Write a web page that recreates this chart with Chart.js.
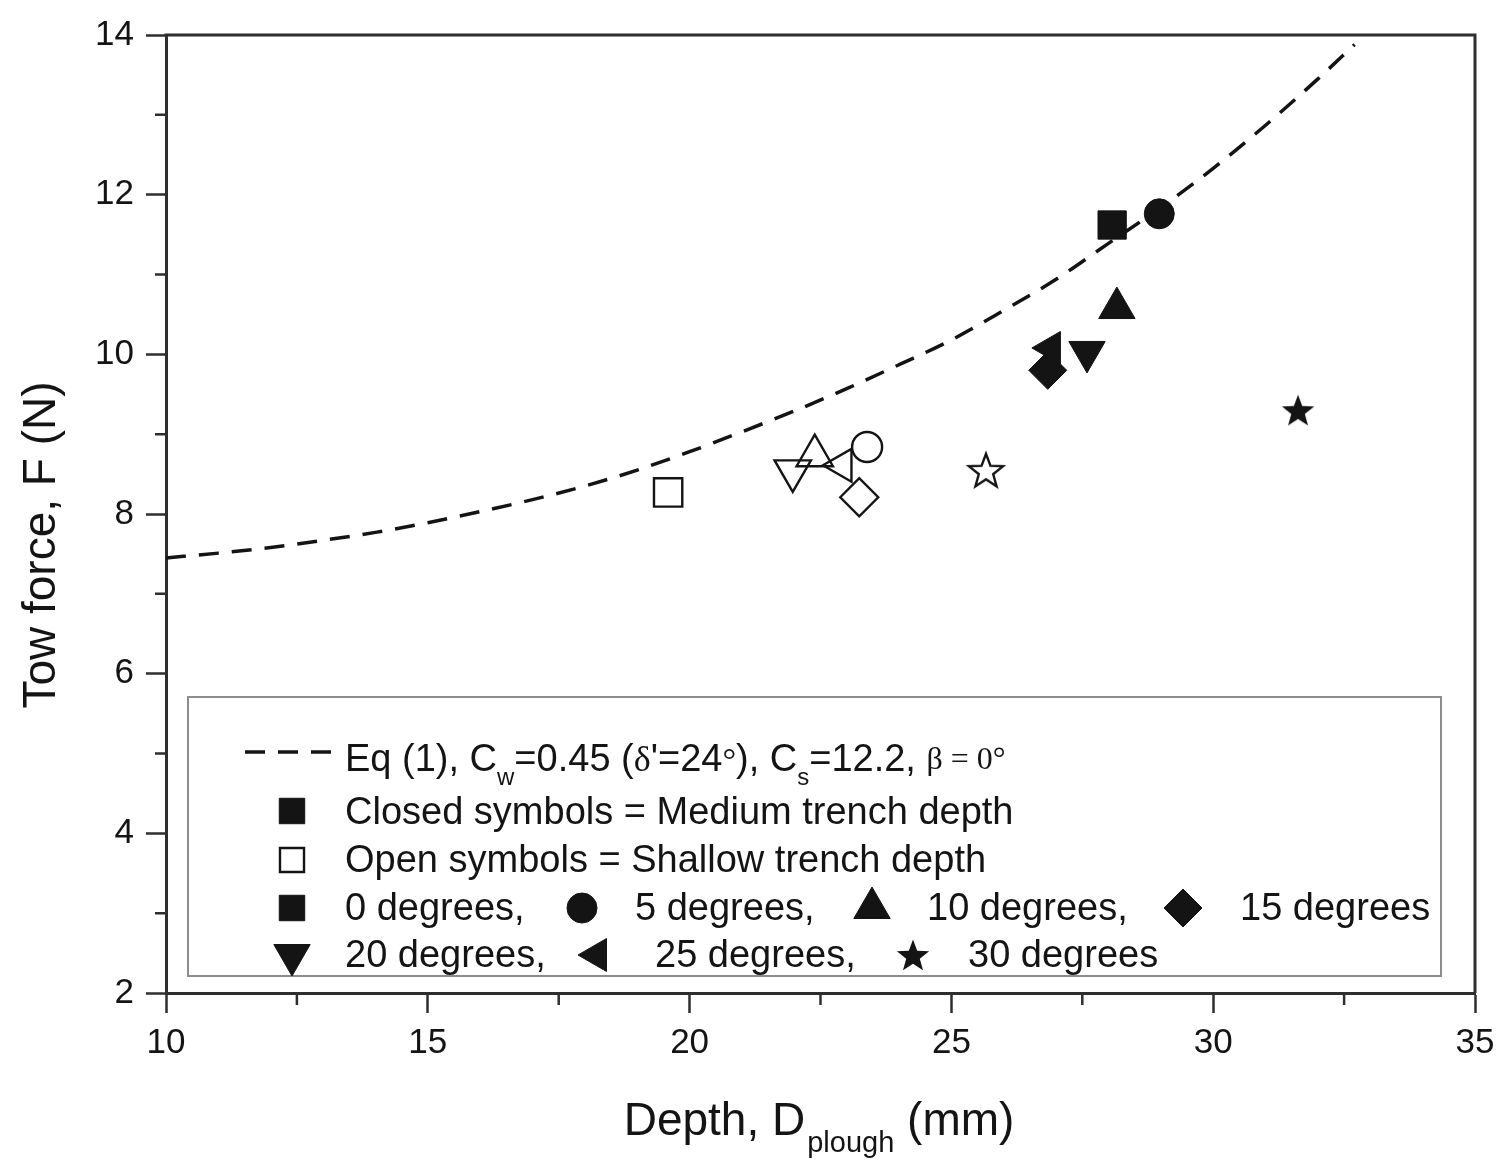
<!DOCTYPE html>
<html>
<head>
<meta charset="utf-8">
<title>Tow force vs plough depth</title>
<script src="https://cdn.jsdelivr.net/npm/chart.js@4.4.1/dist/chart.umd.min.js"></script>
<style>
  body { margin: 0; background: #fff; }
  #wrap { width: 1511px; height: 1161px; }
</style>
</head>
<body>
<div id="wrap"><canvas id="chart" width="1511" height="1161"></canvas></div>
<script>
// trench angle order: 0, 5, 10, 15, 20, 25, 30 degrees
const angleLabels = ['0 degrees,', '5 degrees,', '10 degrees,', '15 degrees', '20 degrees,', '25 degrees,', '30 degrees'];

// medium trench depth (closed symbols)
const mediumDepth = [28.07, 28.97, 28.16, 26.84, 27.59, 26.90, 31.62];
const mediumForce = [11.62, 11.76, 10.58, 9.80, 10.03, 10.08, 9.30];

// shallow trench depth (open symbols)
const shallowDepth = [19.59, 23.39, 22.39, 23.24, 21.97, 22.91, 25.66];
const shallowForce = [8.27, 8.84, 8.73, 8.21, 8.54, 8.61, 8.55];

// Eq (1) prediction
const eqDepth = [10, 11, 12, 13, 14, 15, 16, 17, 18, 19, 20, 21, 22, 23, 24, 25, 26, 27, 28, 29, 30, 31, 32, 32.7];
const eqForce = [7.45, 7.51, 7.58, 7.67, 7.77, 7.89, 8.03, 8.18, 8.35, 8.55, 8.78, 9.03, 9.29, 9.57, 9.87, 10.18, 10.55, 10.94, 11.39, 11.84, 12.33, 12.87, 13.45, 13.88];

const INK = '#141414';
const AXIS = '#2e2e2e';
const SANS = '"Liberation Sans", Arial, Helvetica, sans-serif';
const SERIF = '"Liberation Serif", "Times New Roman", serif';

function starCanvas(outer, filled) {
  const size = Math.ceil(outer * 2 + 6);
  const c = document.createElement('canvas');
  c.width = c.height = size;
  const g = c.getContext('2d');
  const cx = size / 2, cy = size / 2 + outer * 0.095;
  g.beginPath();
  for (let i = 0; i < 10; i++) {
    const r = i % 2 ? outer * 0.42 : outer;
    const a = -Math.PI / 2 + i * Math.PI / 5;
    g.lineTo(cx + r * Math.cos(a), cy + r * Math.sin(a));
  }
  g.closePath();
  if (filled) {
    g.fillStyle = INK;
    g.fill();
  } else {
    g.lineWidth = 2.4;
    g.lineJoin = 'miter';
    g.strokeStyle = INK;
    g.stroke();
  }
  return c;
}

const starFilled = starCanvas(17, true);
const starOpen = starCanvas(18, false);
const starLegend = starCanvas(17, true);

const styles = ['rect', 'circle', 'triangle', 'rectRot', 'triangle', 'triangle'];
const rotations = [0, 0, 0, 0, 180, 270, 0];
const radii = [20, 15, 21, 19, 21, 19, 17];

const toPoints = (xs, ys) => xs.map((x, i) => ({ x, y: ys[i] }));

const decor = {
  id: 'decor',
  afterDraw(chart) {
    const { ctx, chartArea: a, scales } = chart;
    const xs = scales.x, ys = scales.y;
    ctx.save();

    // top and right frame
    ctx.strokeStyle = AXIS;
    ctx.lineWidth = 3;
    ctx.beginPath();
    ctx.moveTo(a.left - 1.5, a.top);
    ctx.lineTo(a.right, a.top);
    ctx.lineTo(a.right, a.bottom);
    ctx.stroke();

    // minor ticks
    ctx.lineWidth = 2.5;
    ctx.beginPath();
    for (let v = 12.5; v < 35; v += 5) {
      const px = xs.getPixelForValue(v);
      ctx.moveTo(px, a.bottom);
      ctx.lineTo(px, a.bottom + 12);
    }
    for (let v = 3; v < 14; v += 2) {
      const py = ys.getPixelForValue(v);
      ctx.moveTo(a.left, py);
      ctx.lineTo(a.left - 11, py);
    }
    ctx.stroke();

    // axis titles
    ctx.fillStyle = INK;
    ctx.textBaseline = 'alphabetic';
    ctx.font = '46px ' + SANS;
    const t1 = 'Depth, D', t3 = ' (mm)';
    const w1 = ctx.measureText(t1).width, w3 = ctx.measureText(t3).width;
    ctx.font = '29px ' + SANS;
    const w2 = ctx.measureText('plough').width;
    let tx = 818 - (w1 + w2 + w3) / 2;
    ctx.font = '46px ' + SANS;
    ctx.fillText(t1, tx, 1135);
    ctx.font = '29px ' + SANS;
    ctx.fillText('plough', tx + w1 + 2, 1152);
    ctx.font = '46px ' + SANS;
    ctx.fillText(t3, tx + w1 + w2 + 2, 1135);

    ctx.save();
    ctx.translate(42, 545);
    ctx.rotate(-Math.PI / 2);
    ctx.textAlign = 'center';
    ctx.textBaseline = 'middle';
    ctx.fillText('Tow force, F (N)', 0, 0);
    ctx.restore();

    // legend box
    ctx.strokeStyle = '#8c8c8c';
    ctx.lineWidth = 2;
    ctx.strokeRect(188, 697, 1253, 279);

    // row 1: dashed model line + equation
    ctx.strokeStyle = INK;
    ctx.lineWidth = 3.5;
    ctx.setLineDash([20, 13]);
    ctx.beginPath();
    ctx.moveTo(245, 752);
    ctx.lineTo(332, 752);
    ctx.stroke();
    ctx.setLineDash([]);

    const runs = [
      ['Eq (1), C', '38px ' + SANS, 0],
      ['w', '24px ' + SANS, 14],
      ['=0.45 (', '38px ' + SANS, 0],
      ['\u03b4', '36px ' + SERIF, 0],
      ["'=24", '38px ' + SANS, 0],
      ['\u00b0', '34px ' + SERIF, 0],
      ['), C', '38px ' + SANS, 0],
      ['s', '24px ' + SANS, 14],
      ['=12.2, ', '38px ' + SANS, 0],
      ['\u03b2 = 0\u00b0', '32px ' + SERIF, -2]
    ];
    let rx = 345;
    runs.forEach(([txt, font, dy]) => {
      ctx.font = font;
      ctx.fillText(txt, rx, 771 + dy);
      rx += ctx.measureText(txt).width;
    });

    const sym = (style, x, y, r, rot, filled) => {
      ctx.fillStyle = filled ? INK : 'rgba(0,0,0,0)';
      ctx.strokeStyle = INK;
      ctx.lineWidth = filled ? 1 : 2.4;
      Chart.helpers.drawPoint(ctx, { pointStyle: style, radius: r, rotation: rot, borderWidth: ctx.lineWidth }, x, y);
    };

    ctx.font = '38px ' + SANS;
    sym('rect', 292, 811, 18, 0, true);
    ctx.fillStyle = INK;
    ctx.fillText('Closed symbols = Medium trench depth', 345, 824);
    sym('rect', 292, 860, 17, 0, false);
    ctx.fillStyle = INK;
    ctx.fillText('Open symbols = Shallow trench depth', 345, 872);

    const legendRows = [
      { y: 908, base: 920, items: [[0, 292, 345], [1, 582, 635], [2, 872, 927], [3, 1183, 1240]] },
      { y: 955, base: 967, items: [[4, 292, 345], [5, 597, 655], [6, 913, 968]] }
    ];
    const legendRadii = [18, 15, 21, 19, 21, 19, 0];
    legendRows.forEach(row => {
      row.items.forEach(([k, sx, lx]) => {
        const style = k === 6 ? starLegend : styles[k];
        sym(style, sx, row.y, legendRadii[k], rotations[k], true);
        ctx.fillStyle = INK;
        ctx.font = '38px ' + SANS;
        ctx.fillText(angleLabels[k], lx, row.base);
      });
    });

    ctx.restore();
  }
};

new Chart(document.getElementById('chart'), {
  type: 'scatter',
  data: {
    datasets: [
      {
        label: 'Eq (1)',
        type: 'line',
        data: toPoints(eqDepth, eqForce),
        borderColor: INK,
        borderWidth: 3.5,
        borderDash: [20, 13],
        pointRadius: 0,
        cubicInterpolationMode: 'monotone',
        fill: false
      },
      {
        label: 'Medium trench depth',
        data: toPoints(mediumDepth, mediumForce),
        pointStyle: [...styles, starFilled],
        pointRotation: rotations,
        pointRadius: radii,
        backgroundColor: INK,
        borderColor: INK,
        borderWidth: 1
      },
      {
        label: 'Shallow trench depth',
        data: toPoints(shallowDepth, shallowForce),
        pointStyle: [...styles, starOpen],
        pointRotation: rotations,
        pointRadius: radii,
        backgroundColor: 'rgba(0,0,0,0)',
        borderColor: INK,
        borderWidth: 2.4
      }
    ]
  },
  options: {
    responsive: false,
    animation: false,
    devicePixelRatio: 1,
    layout: { padding: { left: 0, top: 35, right: 36, bottom: 0 } },
    plugins: { legend: { display: false }, tooltip: { enabled: false } },
    scales: {
      x: {
        type: 'linear',
        min: 10,
        max: 35,
        afterFit: s => { s.height = 168; },
        ticks: { stepSize: 5, padding: 9, color: INK, font: { family: SANS, size: 35 } },
        grid: { drawOnChartArea: false, tickLength: 20, tickWidth: 2.5, tickColor: AXIS },
        border: { color: AXIS, width: 3 }
      },
      y: {
        type: 'linear',
        min: 2,
        max: 14,
        afterFit: s => { s.width = 166; },
        ticks: { stepSize: 2, padding: 12, color: INK, font: { family: SANS, size: 35 } },
        grid: { drawOnChartArea: false, tickLength: 20, tickWidth: 2.5, tickColor: AXIS },
        border: { color: AXIS, width: 3 }
      }
    }
  },
  plugins: [decor]
});
</script>
</body>
</html>
